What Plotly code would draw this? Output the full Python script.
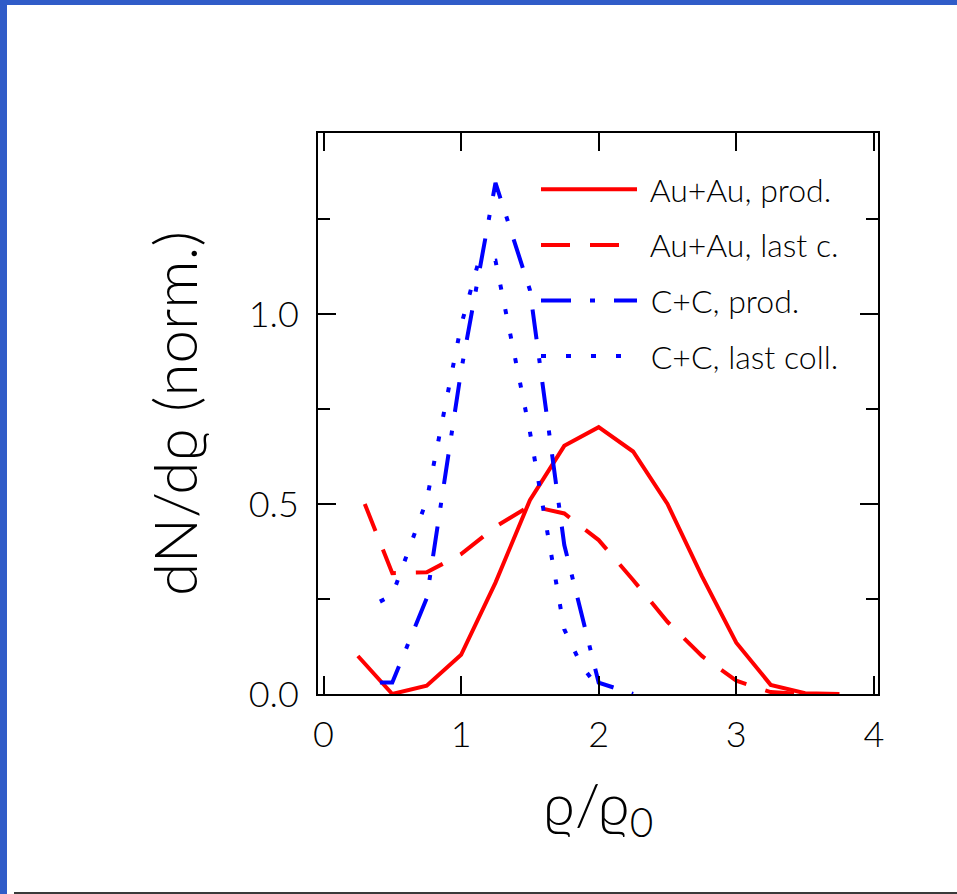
import plotly.graph_objects as go

# ---- data ----
au_prod_x = [0.25, 0.5, 0.75, 1.0, 1.25, 1.5, 1.75, 2.0, 2.25, 2.5, 2.75, 3.0, 3.25, 3.5, 3.75]
au_prod_y = [0.10, 0.0, 0.022, 0.103, 0.293, 0.51, 0.653, 0.702, 0.638, 0.50, 0.31, 0.135, 0.024, 0.002, 0.0]

au_last_x = [0.30, 0.5, 0.75, 1.0, 1.25, 1.5, 1.75, 2.0, 2.25, 2.5, 2.75, 3.0, 3.25, 3.5]
au_last_y = [0.50, 0.318, 0.32, 0.368, 0.44, 0.495, 0.475, 0.405, 0.30, 0.19, 0.10, 0.035, 0.005, 0.0]

cc_prod_x = [0.41, 0.5, 0.75, 1.0, 1.25, 1.5, 1.75, 2.0, 2.25]
cc_prod_y = [0.03, 0.03, 0.252, 0.85, 1.345, 1.063, 0.392, 0.03, 0.0]

cc_last_x = [0.41, 0.5, 0.75, 1.0, 1.125, 1.25, 1.5, 1.75, 1.875, 2.0]
cc_last_y = [0.243, 0.26, 0.51, 0.97, 1.135, 1.14, 0.69, 0.17, 0.075, 0.015]

names = ["Au+Au, prod.", "Au+Au, last c.", "C+C, prod.", "C+C, last coll."]

FONT = "Lato"
RED = "#ff0000"
BLUE = "#0000ff"
PAD = "\u00a0"

fig = go.Figure()
fig.add_trace(go.Scatter(x=au_prod_x, y=au_prod_y, mode="lines", name=PAD + names[0],
                         line=dict(color=RED, width=4), legendgroup="a"))
fig.add_trace(go.Scatter(x=au_last_x, y=au_last_y, mode="lines", name=PAD + names[1],
                         line=dict(color=RED, width=4, dash="29px,20px"), legendgroup="b"))
fig.add_trace(go.Scatter(x=cc_prod_x, y=cc_prod_y, mode="lines", name=PAD + names[2],
                         line=dict(color=BLUE, width=4, dash="30px,19px,5px,19px"), legendgroup="c"))
fig.add_trace(go.Scatter(x=cc_last_x, y=cc_last_y, mode="lines", name=PAD + names[3],
                         line=dict(color=BLUE, width=4, dash="5px,20px"), legendgroup="d"))

# plot area: x 318..878, y 133..694 in a 957x894 page
L, R, T, B = 318, 957 - 878, 133, 894 - 694
W, H = 957 - L - R, 894 - T - B

def px(xp):
    return (xp - L) / W

def py(yp):
    return (T + H - yp) / H

BORDER = "#305cc8"
shapes = [
    dict(type="rect", xref="paper", yref="paper", x0=px(0), x1=px(7), y0=py(894), y1=py(0),
         fillcolor=BORDER, line=dict(width=0), layer="above"),
    dict(type="rect", xref="paper", yref="paper", x0=px(0), x1=px(957), y0=py(5), y1=py(0),
         fillcolor=BORDER, line=dict(width=0), layer="above"),
    dict(type="rect", xref="paper", yref="paper", x0=px(14), x1=px(957), y0=py(894), y1=py(892),
         fillcolor="#3a3a3a", line=dict(width=0), layer="above"),
]

axis_common = dict(showline=True, linecolor="black", linewidth=2, mirror="ticks",
                   ticks="inside", tickcolor="black", tickwidth=2, ticklen=18,
                   showgrid=False, zeroline=False,
                   tickfont=dict(family=FONT, size=36, color="black", weight=300))

fig.update_layout(
    width=957, height=894,
    margin=dict(l=L, r=R, t=T, b=B),
    paper_bgcolor="white", plot_bgcolor="white",
    shapes=shapes,
    xaxis=dict(range=[-0.04, 4.03], tickvals=[0, 1, 2, 3, 4], ticktext=["0", "1", "2", "3", "4"],
               ticklabelstandoff=8,
               title=dict(text="ϱ/ϱ<sub>0</sub>", font=dict(family=FONT, size=58, color="black", weight=300),
                          standoff=30),
               **axis_common),
    yaxis=dict(range=[0, 1.476], tickvals=[0, 0.5, 1.0], ticktext=["0.0", "0.5", "1.0"],
               minor=dict(ticks="inside", ticklen=12, tickwidth=2, tickcolor="black", tickvals=[0.25, 0.75, 1.25]),
               ticklabelstandoff=10,
               title=dict(text="dN/dϱ (norm.)", font=dict(family=FONT, size=60, color="black", weight=300),
                          standoff=32),
               **axis_common),
    legend=dict(x=px(536), y=py(162), xanchor="left", yanchor="top",
                font=dict(family=FONT, size=32, color="black", weight=300),
                bgcolor="rgba(0,0,0,0)", itemwidth=96, tracegroupgap=11, traceorder="grouped"),
    showlegend=True,
)

fig.write_html("out.html")
